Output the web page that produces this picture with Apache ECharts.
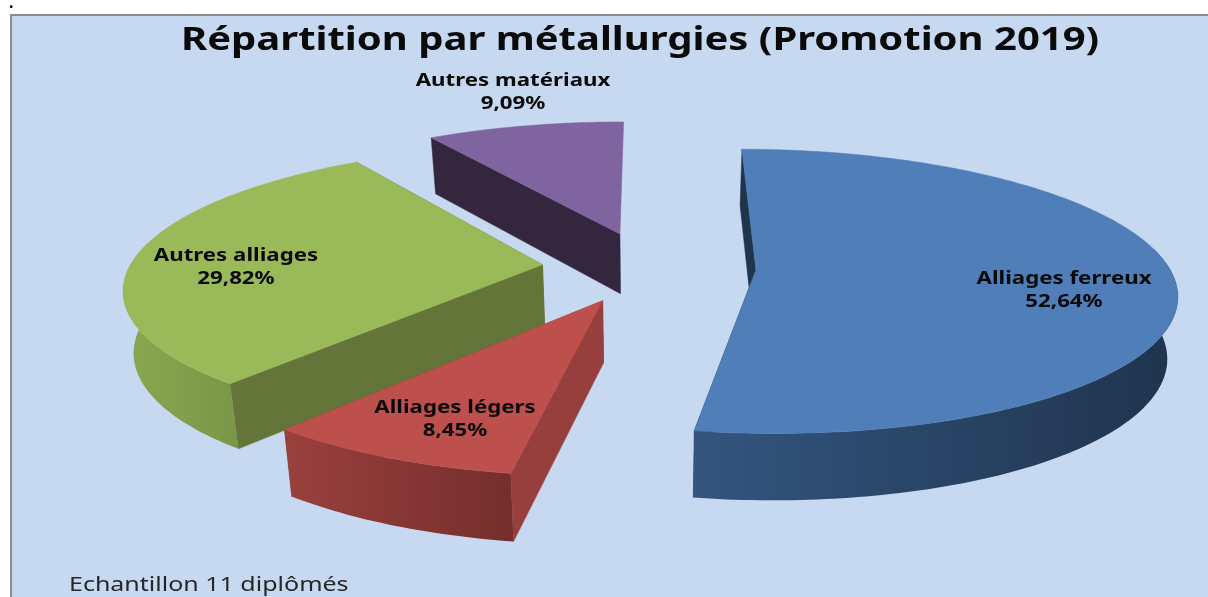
<!DOCTYPE html>
<html>
<head>
<meta charset="utf-8">
<style>
  html, body { margin:0; padding:0; background:#ffffff; }
  #chart { width:1208px; height:597px; }
</style>
<script src="https://cdn.jsdelivr.net/npm/echarts@6/dist/echarts.min.js"></script>
</head>
<body>
<div id="chart"></div>
<script>
const categories = ['Alliages ferreux', 'Alliages légers', 'Autres alliages', 'Autres matériaux'];
const shares = [52.64, 8.45, 29.82, 9.09];
const chartTitle = 'Répartition par métallurgies (Promotion 2019)';
const footnote = 'Echantillon 11 diplômés';

const topColors = ['#4f7eb9', '#bd4f4c', '#9aba59', '#8064a0'];
const cutColors = ['#1f344d', '#963f3c', '#637538', '#34263f'];
const rimColors = [['#33557f', '#1f344d'], ['#9a403d', '#752e2c'], ['#8aa850', '#7a9647'], ['#34263f', '#34263f']];
const labelPos = [[1064, 291], [455, 420], [236, 268], [513, 93]];

// 3D view of the pie: perspective on depth, every slice pulled out the same amount
const view = { cx:649, cy:267, rx:413, ry:138, persp:0.15, explode:0.259, depth:61, shrink:0.98 };

function project(X, Z, lower){
    let s = 1 / (1 + view.persp * Z);
    let x = view.rx * X * s;
    let y = -view.ry * Z * s;
    if ( lower ){
        x = x * view.shrink;
        y = y + view.depth * Math.pow(s, 0.55);
    }
    return [view.cx + x, view.cy + y];
}

// angles clockwise from 12 o'clock, in the order of the arrays
let total = shares.reduce((a, b)=>a + b, 0);
let running = 0;
const slices = shares.map((v, i)=>{
    let start = running / total * Math.PI * 2;
    running += v;
    let end = running / total * Math.PI * 2;
    return { index:i, start, end, mid:(start + end) / 2 };
});
// back slices are painted first
const paintOrder = slices.slice().sort((a, b)=>Math.cos(b.mid) - Math.cos(a.mid));

function arcPoints(ox, oz, from, to, lower){
    let points = [];
    let steps = Math.max(1, Math.ceil((to - from) / (Math.PI / 180)));
    for ( let n = 0; n <= steps; n++ ){
        let t = from + (to - from) * n / steps;
        points.push(project(ox + Math.sin(t), oz + Math.cos(t), lower));
    }
    return points;
}

function renderSlice(params, api){
    let slice = slices[api.value(1)];
    let i = slice.index;
    let ox = Math.sin(slice.mid) * view.explode;
    let oz = Math.cos(slice.mid) * view.explode;
    let topArc = arcPoints(ox, oz, slice.start, slice.end, false);
    let apexTop = project(ox, oz, false);
    let apexLow = project(ox, oz, true);
    let children = [];
    [slice.start, slice.end].forEach(t=>{
        let a = project(ox + Math.sin(t), oz + Math.cos(t), false);
        let b = project(ox + Math.sin(t), oz + Math.cos(t), true);
        // a cut seen almost edge on just leaves a sliver
        if ( Math.abs(a[0] - apexTop[0]) < 6 ) return;
        children.push({
            type:'polygon',
            shape:{ points:[apexTop, a, b, apexLow] },
            style:{ fill:cutColors[i], stroke:cutColors[i], lineWidth:0.5 }
        });
    });
    // only the front part of the rim can be seen
    let from = Math.max(slice.start, Math.PI * 0.45);
    let to = Math.min(slice.end, Math.PI * 1.55);
    if ( to > from ){
        children.push({
            type:'polygon',
            shape:{ points:arcPoints(ox, oz, from, to, false).concat(arcPoints(ox, oz, from, to, true).reverse()) },
            style:{
                fill:new echarts.graphic.LinearGradient(0, 0, 1, 0, [
                    { offset:0, color:rimColors[i][0] },
                    { offset:1, color:rimColors[i][1] }
                ])
            }
        });
    }
    children.push({
        type:'polygon',
        shape:{ points:[apexTop].concat(topArc) },
        style:{ fill:topColors[i], stroke:topColors[i], lineWidth:0.5 }
    });
    children.push({
        type:'text',
        x:labelPos[i][0],
        y:labelPos[i][1],
        scaleX:1.31,
        style:{
            text:categories[i] + '\n' + api.value(0).toFixed(2).replace('.', ',') + '%',
            x:0,
            y:0,
            fill:'#0a0a0a',
            font:'bold 17px "Noto Sans"',
            lineHeight:23,
            align:'center',
            verticalAlign:'middle'
        }
    });
    return { type:'group', children };
}

const myChart = echarts.init(document.getElementById('chart'));
myChart.setOption({
    animation:false,
    backgroundColor:'#ffffff',
    graphic:{
        elements:[
            {
                type:'rect',
                z:-1,
                shape:{ x:11, y:15, width:1300, height:700 },
                style:{ fill:'#c6d9f1', stroke:'#8c8c8c', lineWidth:2 }
            },
            {
                type:'text',
                x:640,
                y:41,
                z:5,
                scaleX:1.25,
                style:{
                    text:chartTitle,
                    x:0,
                    y:0,
                    fill:'#0a0a0a',
                    font:'bold 32px "Noto Sans"',
                    align:'center',
                    verticalAlign:'middle'
                }
            },
            {
                type:'text',
                x:69,
                y:585,
                z:5,
                scaleX:1.25,
                style:{
                    text:footnote,
                    x:0,
                    y:0,
                    fill:'#262626',
                    font:'20px "Noto Sans"',
                    align:'left',
                    verticalAlign:'middle'
                }
            },
            {
                type:'text',
                x:9,
                y:-5,
                z:5,
                style:{ text:'.', x:0, y:0, fill:'#000000', font:'bold 16px "Noto Sans"' }
            }
        ]
    },
    series:[{
        type:'custom',
        coordinateSystem:'none',
        silent:true,
        renderItem:renderSlice,
        data:paintOrder.map(s=>[shares[s.index], s.index])
    }]
});
</script>
</body>
</html>
